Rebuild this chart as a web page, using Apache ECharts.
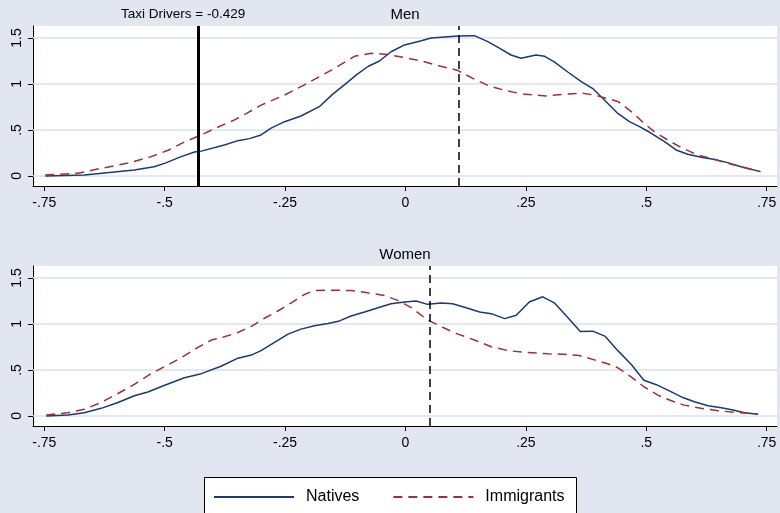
<!DOCTYPE html>
<html>
<head>
<meta charset="utf-8">
<script src="https://cdn.jsdelivr.net/npm/echarts@6/dist/echarts.min.js"></script>
<style>
html,body{margin:0;padding:0;background:#e1e6f0;}
#c{width:780px;height:513px;}
</style>
</head>
<body>
<div id="c"></div>
<script>
// ---------- data ----------
var xTickValues = [-0.75, -0.5, -0.25, 0, 0.25, 0.5, 0.75];
var xTickLabels = ['-.75', '-.5', '-.25', '0', '.25', '.5', '.75'];
var yTickValues = [0, 0.5, 1, 1.5];
var yTickLabels = ['0', '.5', '1', '1.5'];
var seriesNames = ['Natives', 'Immigrants'];
var panelTitles = ['Men', 'Women'];
var taxiDriverValue = -0.429;
var taxiDriverLabel = 'Taxi Drivers = -0.429';
var menRefLine = 0.107;
var womenRefLine = 0.049;

var menNatives = [[-0.748,0],[-0.667,0.01],[-0.563,0.065],[-0.522,0.10],[-0.499,0.14],[-0.466,0.21],[-0.438,0.26],[-0.424,0.27],[-0.376,0.337],[-0.348,0.384],[-0.324,0.406],[-0.300,0.446],[-0.279,0.52],[-0.251,0.59],[-0.217,0.652],[-0.179,0.753],[-0.151,0.89],[-0.127,0.99],[-0.102,1.098],[-0.078,1.19],[-0.054,1.25],[-0.030,1.35],[-0.002,1.424],[0.033,1.47],[0.053,1.50],[0.081,1.51],[0.109,1.52],[0.143,1.525],[0.171,1.46],[0.195,1.39],[0.219,1.315],[0.240,1.28],[0.271,1.315],[0.289,1.30],[0.309,1.24],[0.337,1.13],[0.365,1.025],[0.389,0.95],[0.413,0.826],[0.441,0.68],[0.465,0.59],[0.486,0.536],[0.507,0.475],[0.538,0.373],[0.562,0.283],[0.586,0.236],[0.614,0.203],[0.642,0.18],[0.669,0.145],[0.697,0.10],[0.737,0.047]];
var menImmigrants = [[-0.748,0.01],[-0.680,0.03],[-0.632,0.083],[-0.576,0.14],[-0.528,0.21],[-0.493,0.28],[-0.459,0.37],[-0.424,0.446],[-0.390,0.53],[-0.355,0.61],[-0.330,0.68],[-0.300,0.77],[-0.251,0.88],[-0.210,0.99],[-0.154,1.15],[-0.106,1.30],[-0.071,1.334],[-0.037,1.32],[0.005,1.28],[0.033,1.25],[0.071,1.196],[0.107,1.15],[0.140,1.06],[0.174,0.978],[0.209,0.927],[0.244,0.89],[0.292,0.87],[0.330,0.888],[0.365,0.90],[0.392,0.88],[0.413,0.85],[0.441,0.81],[0.469,0.70],[0.496,0.57],[0.517,0.48],[0.545,0.39],[0.572,0.31],[0.607,0.228],[0.635,0.19],[0.669,0.138],[0.697,0.10],[0.737,0.047]];
var womenNatives = [[-0.746,0],[-0.701,0.01],[-0.667,0.036],[-0.632,0.083],[-0.597,0.147],[-0.563,0.22],[-0.535,0.26],[-0.500,0.334],[-0.459,0.416],[-0.424,0.46],[-0.383,0.54],[-0.348,0.628],[-0.320,0.662],[-0.300,0.71],[-0.272,0.80],[-0.244,0.89],[-0.217,0.944],[-0.189,0.98],[-0.161,1.004],[-0.137,1.033],[-0.113,1.087],[-0.085,1.13],[-0.057,1.177],[-0.030,1.22],[-0.002,1.238],[0.022,1.249],[0.046,1.213],[0.074,1.227],[0.098,1.22],[0.126,1.177],[0.154,1.13],[0.178,1.112],[0.206,1.058],[0.230,1.095],[0.257,1.238],[0.285,1.295],[0.309,1.23],[0.337,1.07],[0.363,0.918],[0.389,0.922],[0.415,0.865],[0.441,0.71],[0.469,0.56],[0.495,0.388],[0.521,0.34],[0.548,0.273],[0.576,0.20],[0.600,0.154],[0.628,0.111],[0.656,0.09],[0.680,0.065],[0.704,0.036],[0.732,0.018]];
var womenImmigrants = [[-0.746,0.01],[-0.701,0.036],[-0.667,0.072],[-0.632,0.147],[-0.597,0.244],[-0.563,0.344],[-0.528,0.46],[-0.500,0.538],[-0.466,0.632],[-0.431,0.746],[-0.403,0.825],[-0.376,0.861],[-0.348,0.907],[-0.320,0.975],[-0.293,1.062],[-0.265,1.141],[-0.237,1.23],[-0.210,1.32],[-0.189,1.364],[-0.154,1.367],[-0.113,1.364],[-0.078,1.338],[-0.044,1.31],[-0.016,1.256],[0.012,1.177],[0.046,1.044],[0.078,0.961],[0.109,0.89],[0.143,0.826],[0.178,0.753],[0.213,0.71],[0.247,0.692],[0.296,0.675],[0.330,0.671],[0.361,0.657],[0.392,0.61],[0.420,0.567],[0.441,0.524],[0.469,0.423],[0.496,0.315],[0.524,0.226],[0.552,0.165],[0.579,0.118],[0.614,0.083],[0.649,0.057],[0.683,0.04],[0.732,0.022]];

// ---------- chart ----------
var FONT = '"Liberation Sans", Arial, Helvetica, sans-serif';
var NAVY = '#1a3a73';
var MAROON = '#9a3137';
var GRIDC = '#dbe1ec';

function lookup(vals, labels) {
  return function (v) {
    for (var i = 0; i < vals.length; i++) if (Math.abs(vals[i] - v) < 1e-9) return labels[i];
    return '';
  };
}

function xAxisDef(idx) {
  return {
    type: 'value', gridIndex: idx, min: -0.7735, max: 0.7715,
    axisLine: { show: true, onZero: false, lineStyle: { color: '#000', width: 1 } },
    axisTick: { show: true, length: 5, customValues: xTickValues, lineStyle: { color: '#000' } },
    axisLabel: { customValues: xTickValues, formatter: lookup(xTickValues, xTickLabels), color: '#000', fontSize: 14, fontFamily: FONT, margin: 10 },
    splitLine: { show: false }
  };
}
function yAxisDef(idx) {
  return {
    type: 'value', gridIndex: idx, min: -0.109, max: 1.63,
    axisLine: { show: true, onZero: false, lineStyle: { color: '#000', width: 1 } },
    axisTick: { show: true, length: 5, customValues: yTickValues, lineStyle: { color: '#000' } },
    axisLabel: { customValues: yTickValues, formatter: lookup(yTickValues, yTickLabels), rotate: 90, color: '#000', fontSize: 14, fontFamily: FONT, margin: 9 },
    splitLine: { show: false }
  };
}
function gridLines() {
  return {
    silent: true, symbol: ['none', 'none'], z: 1, animation: false,
    label: { show: false },
    lineStyle: { color: GRIDC, width: 1.5, type: 'solid' },
    data: yTickValues.map(function (v) { return { yAxis: v }; })
  };
}
function lineSeries(name, idx, data, dashed, extraMark) {
  var s = {
    name: name, type: 'line', xAxisIndex: idx, yAxisIndex: idx,
    data: data, showSymbol: false, symbol: 'none', animation: false, z: 3,
    lineStyle: dashed ? { color: MAROON, width: 1.5, type: [9, 6] } : { color: NAVY, width: 1.5 },
    itemStyle: { color: dashed ? MAROON : NAVY }
  };
  if (extraMark) s.markLine = extraMark;
  return s;
}
function vLines(items) {
  return {
    silent: true, symbol: ['none', 'none'], animation: false, z: 5,
    label: { show: false },
    data: items
  };
}

var chart = echarts.init(document.getElementById('c'), null, { renderer: 'canvas' });
chart.setOption({
  backgroundColor: '#e1e6f0',
  animation: false,
  grid: [
    { left: 33, top: 26, right: 3, height: 160, show: true, backgroundColor: '#ffffff', borderWidth: 0 },
    { left: 33, top: 266, right: 3, height: 160, show: true, backgroundColor: '#ffffff', borderWidth: 0 }
  ],
  xAxis: [xAxisDef(0), xAxisDef(1)],
  yAxis: [yAxisDef(0), yAxisDef(1)],
  legend: {
    data: seriesNames, left: 213, top: 489, padding: 0, itemWidth: 80, itemHeight: 14, itemGap: 33,
    itemStyle: { opacity: 0, borderWidth: 0 },
    textStyle: { color: '#000', fontSize: 16, fontFamily: FONT, padding: [0, 0, 0, 7] },
    z: 10
  },
  graphic: [
    { type: 'rect', z: 1, shape: { x: 204.5, y: 477.5, width: 372, height: 50 }, style: { fill: '#fff', stroke: '#000', lineWidth: 1 } },
    { type: 'text', z: 10, x: 405, y: 15, style: { text: panelTitles[0], fontSize: 15, fontFamily: FONT, fill: '#000', align: 'center', verticalAlign: 'middle' } },
    { type: 'text', z: 10, x: 405, y: 255, style: { text: panelTitles[1], fontSize: 15, fontFamily: FONT, fill: '#000', align: 'center', verticalAlign: 'middle' } },
    { type: 'text', z: 10, x: 121, y: 14, style: { text: taxiDriverLabel, fontSize: 13.5, fontFamily: FONT, fill: '#000', align: 'left', verticalAlign: 'middle' } }
  ],
  series: [
    lineSeries(seriesNames[0], 0, menNatives, false, gridLines()),
    lineSeries(seriesNames[1], 0, menImmigrants, true, vLines([
      { xAxis: taxiDriverValue, lineStyle: { color: '#000', width: 3, type: 'solid' } },
      { xAxis: menRefLine, lineStyle: { color: '#000', width: 1.5, type: [8, 5] } }
    ])),
    lineSeries(seriesNames[0], 1, womenNatives, false, gridLines()),
    lineSeries(seriesNames[1], 1, womenImmigrants, true, vLines([
      { xAxis: womenRefLine, lineStyle: { color: '#000', width: 1.5, type: [8, 5] } }
    ]))
  ]
});
</script>
</body>
</html>
